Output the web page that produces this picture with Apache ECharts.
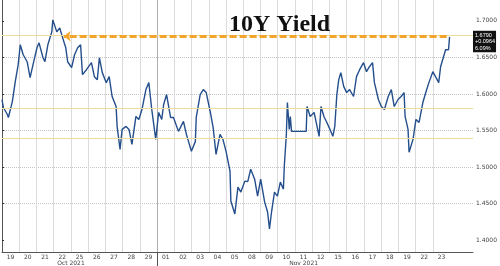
<!DOCTYPE html>
<html>
<head>
<meta charset="utf-8">
<script src="https://cdn.jsdelivr.net/npm/echarts@6/dist/echarts.min.js"></script>
<style>html,body{margin:0;padding:0;background:#fff}#c{width:500px;height:266px}</style>
</head>
<body>
<div id="c"></div>
<script>
// Trading-day labels (each day occupies one unit on the x axis)
const dayLabels = ['19','20','21','22','25','26','27','28','29','01','02','03','04','05','08','09','10','11','12','15','16','17','18','19','22','23'];
const monthLabels = ['Oct 2021', 'Nov 2021'];
const monthLabelPos = [4, 17.5];
const monthBoundary = [9];
const yTicks = [1.4, 1.45, 1.5, 1.55, 1.6, 1.65, 1.7];

// Intraday samples: position in trading days, 10Y yield
const tDays = [0,0.08,0.31,0.37,0.60,0.77,0.94,1.06,1.23,1.46,1.63,1.80,2.03,2.15,2.38,2.49,2.66,2.89,2.95,3.18,3.35,3.52,3.70,3.81,4.04,4.21,4.39,4.56,4.67,4.90,5.19,5.36,5.53,5.65,5.82,6.05,6.22,6.39,6.62,6.68,6.85,6.97,7.20,7.37,7.54,7.77,7.94,8.12,8.35,8.52,8.69,8.92,9.09,9.27,9.38,9.55,9.78,9.95,10.24,10.53,10.70,10.99,11.22,11.27,11.50,11.68,11.85,12.08,12.25,12.42,12.65,12.82,13.00,13.23,13.28,13.51,13.69,13.86,14.09,14.26,14.43,14.66,14.83,15.01,15.24,15.41,15.52,15.64,15.81,15.98,16.15,16.33,16.38,16.50,16.56,16.67,16.73,16.80,17.65,17.70,17.88,18.11,18.28,18.40,18.51,18.68,18.85,19.03,19.20,19.31,19.43,19.54,19.66,19.83,20.00,20.17,20.40,20.57,20.75,20.98,21.15,21.32,21.50,21.61,21.84,22.01,22.19,22.41,22.59,22.76,22.98,23.16,23.33,23.39,23.56,23.62,23.85,24.02,24.20,24.42,24.59,24.77,25.00,25.34,25.45,25.62,25.74,25.91,25.97];
const yields = [1.5924,1.5815,1.5719,1.5678,1.5896,1.6169,1.6401,1.6673,1.6537,1.6441,1.6223,1.6401,1.6632,1.6700,1.6496,1.6441,1.6673,1.6850,1.7014,1.6850,1.6905,1.6768,1.6632,1.6441,1.6360,1.6537,1.6632,1.6673,1.6264,1.6332,1.6428,1.6237,1.6196,1.6496,1.6292,1.6155,1.6237,1.5965,1.5828,1.5556,1.5242,1.5515,1.5556,1.5515,1.5311,1.5692,1.5651,1.5787,1.6060,1.6155,1.5787,1.5379,1.5747,1.5651,1.5856,1.5992,1.5678,1.5678,1.5488,1.5624,1.5447,1.5215,1.5351,1.5678,1.5992,1.6060,1.6019,1.5760,1.5542,1.5174,1.5447,1.5379,1.5215,1.4943,1.4534,1.4357,1.4725,1.4657,1.4807,1.4800,1.4970,1.4834,1.4602,1.4834,1.4520,1.4384,1.4153,1.4384,1.4657,1.4602,1.4793,1.4698,1.5011,1.5447,1.5883,1.5515,1.5692,1.5488,1.5488,1.5828,1.5692,1.5747,1.5556,1.5420,1.5828,1.5692,1.5610,1.5515,1.5420,1.5556,1.5992,1.6196,1.6292,1.6101,1.6019,1.6060,1.5965,1.6237,1.6332,1.6428,1.6305,1.6373,1.6428,1.6155,1.5924,1.5828,1.5787,1.5965,1.6060,1.5828,1.5924,1.5965,1.6019,1.5692,1.5515,1.5202,1.5379,1.5651,1.5610,1.5883,1.6019,1.6155,1.6305,1.6155,1.6373,1.6510,1.6605,1.6605,1.6782];

// Reference levels
const lastLevel = 1.679;
const lastBox = ['1.6790', '+0.0964', '6.09%'];
const supportLevels = [1.5823, 1.5376];
const arrowFrom = 25.8, arrowTo = 3.58;

const xMin = 0, xMax = 27.33, yMin = 1.3837, yMax = 1.7286;

const seriesData = tDays.map((t, i) => [t, yields[i]]);
const splitColors = [];
for (let i = 0; i <= 28; i++) {
  splitColors.push(i >= 26 ? 'rgba(0,0,0,0)' : (monthBoundary.indexOf(i) >= 0 ? '#b0b0b0' : '#dcdcdc'));
}
const labelVals = dayLabels.map((d, i) => i + 0.5);

const chart = echarts.init(document.getElementById('c'), null, {renderer: 'canvas'});
chart.setOption({
  animation: false,
  backgroundColor: '#fff',
  title: {
    text: '10Y Yield', left: 224, top: 8,
    textStyle: {fontFamily: 'Liberation Serif', fontWeight: 'bold', fontSize: 24, color: '#111'}
  },
  grid: {left: 2, right: 22, top: 0, bottom: 13, containLabel: false},
  xAxis: [{
    type: 'value', min: xMin, max: xMax, interval: 1,
    axisLine: {show: true, lineStyle: {color: '#555', width: 1}},
    axisTick: {show: false},
    splitLine: {show: true, lineStyle: {color: splitColors, width: 1, type: 'solid'}},
    axisLabel: {
      show: true, customValues: labelVals, fontSize: 6, color: '#444', margin: 2,
      fontFamily: 'DejaVu Sans',
      formatter: v => dayLabels[Math.floor(v)] || ''
    }
  }, {
    type: 'value', min: xMin, max: xMax, position: 'bottom',
    axisLine: {show: false},
    axisTick: {show: true, customValues: monthBoundary, length: 14, lineStyle: {color: '#555'}},
    splitLine: {show: false},
    axisLabel: {
      show: true, customValues: monthLabelPos, fontSize: 6, color: '#444', margin: 8,
      fontFamily: 'DejaVu Sans',
      formatter: v => monthLabels[monthLabelPos.indexOf(v)] || ''
    }
  }],
  yAxis: {
    type: 'value', position: 'right', min: yMin, max: yMax, splitNumber: 7,
    axisLine: {show: true, lineStyle: {color: '#555'}},
    axisTick: {show: true, customValues: yTicks, length: 2, inside: false, lineStyle: {color: '#333'}},
    splitLine: {show: true, showMinLine: false, showMaxLine: false, lineStyle: {color: '#c4c4c4', type: 'dotted', width: 1}},
    axisLabel: {
      customValues: yTicks, fontSize: 6, color: '#444', margin: 3, fontFamily: 'DejaVu Sans',
      formatter: v => v.toFixed(4)
    }
  },
  series: [{
    type: 'line', data: seriesData, showSymbol: false, symbol: 'none',
    lineStyle: {color: '#244f8c', width: 1.4},
    markLine: {
      silent: true, symbol: 'none', animation: false,
      data: [
        {yAxis: supportLevels[0], lineStyle: {color: '#eedd99', type: 'solid', width: 1}, label: {show: false}},
        {yAxis: supportLevels[1], lineStyle: {color: '#eedd99', type: 'solid', width: 1}, label: {show: false}},
        {yAxis: lastLevel, lineStyle: {color: '#eedd99', type: 'solid', width: 1},
          label: {show: true, position: 'end', distance: 0, formatter: lastBox.join('\n'),
            backgroundColor: '#111', color: '#fff', fontSize: 5.5, lineHeight: 6.5, padding: [1, 1, 1, 2],
            fontFamily: 'Liberation Sans', align: 'left', offset: [0, 6]}},
        [
          {coord: [arrowFrom, lastLevel], symbol: 'none'},
          {coord: [arrowTo, lastLevel], symbol: 'arrow', symbolSize: [8, 7],
            lineStyle: {color: '#f2a52a', type: [7, 3], width: 3}, label: {show: false}}
        ]
      ]
    }
  }]
});
</script>
</body>
</html>
